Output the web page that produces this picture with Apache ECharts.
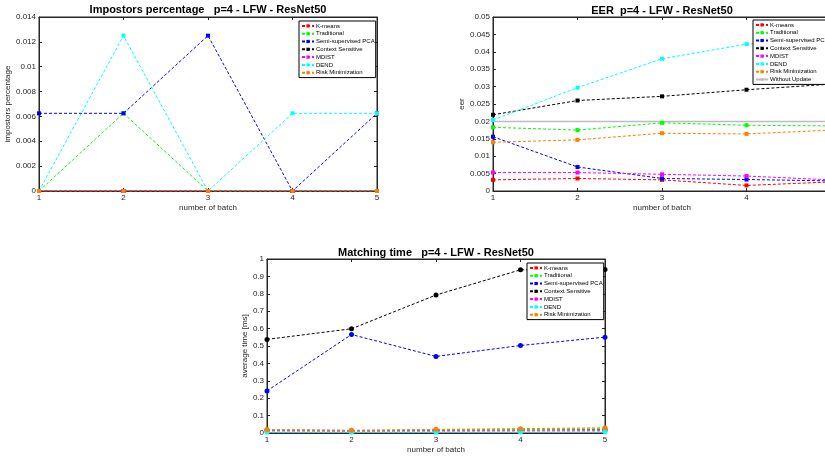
<!DOCTYPE html>
<html>
<head>
<meta charset="utf-8">
<script src="https://cdn.jsdelivr.net/npm/echarts@6/dist/echarts.min.js"></script>
<style>
  html, body { margin: 0; padding: 0; background: #fff; }
  #chart { width: 825px; height: 458px; }
</style>
</head>
<body>
<div id="chart"></div>
<script>
// Batch numbers shared by all three panels
var batches = [1, 2, 3, 4, 5];

var methodNames = ['K-means', 'Traditional', 'Semi-supervised PCA', 'Context Sensitive', 'MDIST', 'DEND', 'Risk Minimization'];
var baselineName = 'Without Update';

// Impostors percentage
var impKmeans      = [0, 0, 0, 0, 0];
var impTraditional = [0, 0.00625, 0, 0, 0];
var impSemiPCA     = [0.00625, 0.00625, 0.0125, 0, 0.00625];
var impContext     = [0, 0, 0, 0, 0];
var impMdist       = [0, 0, 0, 0, 0];
var impDend        = [0, 0.0125, 0, 0.00625, 0.00625];
var impRisk        = [0, 0, 0, 0, 0];

// EER
var eerKmeans      = [0.0032, 0.0036, 0.0032, 0.0016, 0.0026];
var eerTraditional = [0.0183, 0.0175, 0.0196, 0.0189, 0.0187];
var eerSemiPCA     = [0.0156, 0.0069, 0.0036, 0.0033, 0.0029];
var eerContext     = [0.0219, 0.0260, 0.0272, 0.0291, 0.0307];
var eerMdist       = [0.0053, 0.0053, 0.0048, 0.0043, 0.0032];
var eerDend        = [0.0204, 0.0297, 0.0380, 0.0422, 0.0445];
var eerRisk        = [0.0140, 0.0147, 0.0166, 0.0164, 0.0175];
var eerWithoutUpdate = [0.02, 0.02, 0.02, 0.02, 0.02];

// Matching time [ms]
var mtKmeans      = [0.018, 0.014, 0.016, 0.018, 0.020];
var mtTraditional = [0.016, 0.013, 0.017, 0.021, 0.024];
var mtSemiPCA     = [0.242, 0.566, 0.440, 0.503, 0.551];
var mtContext     = [0.538, 0.599, 0.793, 0.938, 0.940];
var mtMdist       = [0.012, 0.010, 0.011, 0.012, 0.013];
var mtDend        = [0.005, 0.004, 0.005, 0.006, 0.007];
var mtRisk        = [0.020, 0.016, 0.021, 0.025, 0.030];

// Y-axis ranges per panel
var impTicks = { min: 0, max: 0.014, interval: 0.002 };
var eerTicks = { min: 0, max: 0.05, interval: 0.005 };
var mtTicks  = { min: 0, max: 1, interval: 0.1 };

var colors = ['#ff0000', '#00ff00', '#0000ff', '#000000', '#ff00ff', '#00ffff', '#ff8000'];
var baselineColor = '#bdbdbd';
var FONT = '"Liberation Sans", Arial, sans-serif';
var AXIS_COLOR = '#262626';

function pairs(values) {
  return batches.map(function (b, i) { return [b, values[i]]; });
}

function xAxisFor(gridIndex, mirror) {
  return {
    type: 'value', gridIndex: gridIndex, min: 1, max: 5, interval: 1,
    position: mirror ? 'top' : 'bottom',
    name: mirror ? '' : 'number of batch', nameLocation: 'middle', nameGap: 13,
    nameTextStyle: { fontFamily: FONT, fontSize: 8, color: AXIS_COLOR },
    axisLine: { show: true, onZero: false, lineStyle: { color: AXIS_COLOR, width: 1 } },
    axisTick: { show: true, inside: true, length: 3, lineStyle: { color: AXIS_COLOR } },
    axisLabel: { show: !mirror, fontFamily: FONT, fontSize: 8, color: AXIS_COLOR, margin: 3 },
    splitLine: { show: false }
  };
}

function yAxisFor(gridIndex, ticks, name, gap, mirror) {
  return {
    type: 'value', gridIndex: gridIndex, min: ticks.min, max: ticks.max, interval: ticks.interval,
    position: mirror ? 'right' : 'left',
    name: mirror ? '' : name, nameLocation: 'middle', nameGap: gap,
    nameTextStyle: { fontFamily: FONT, fontSize: 8, color: AXIS_COLOR },
    axisLine: { show: true, onZero: false, lineStyle: { color: AXIS_COLOR, width: 1 } },
    axisTick: { show: true, inside: true, length: 3, lineStyle: { color: AXIS_COLOR } },
    axisLabel: { show: !mirror, fontFamily: FONT, fontSize: 8, color: AXIS_COLOR, margin: 3 },
    splitLine: { show: false }
  };
}

function methodSeries(panel, valuesList, symbol, size) {
  return valuesList.map(function (values, i) {
    return {
      type: 'line', name: methodNames[i],
      xAxisIndex: panel * 2, yAxisIndex: panel * 2,
      data: pairs(values),
      symbol: symbol, symbolSize: size, showSymbol: true,
      itemStyle: { color: colors[i] },
      lineStyle: { color: colors[i], width: 1, type: [3, 2] },
      animation: false, z: 2 + i
    };
  });
}

function legendFor(left, top, names) {
  return {
    orient: 'vertical', left: left, top: top, z: 20,
    data: names,
    backgroundColor: '#ffffff', borderColor: '#000000', borderWidth: 1,
    padding: [1, 1, 1, 2],
    itemWidth: 12, itemHeight: 4, itemGap: 0,
    textStyle: { fontFamily: FONT, fontSize: 6, color: '#000', lineHeight: 7.8, padding: [0, 0, 0, -3] },
    selectedMode: false
  };
}

function titleText(x, y, text) {
  return {
    type: 'text', x: x, y: y,
    style: { text: text, fontFamily: FONT, fontSize: 11, fontWeight: 'bold', fill: '#000',
             align: 'center', verticalAlign: 'middle' }
  };
}

function gridBox(left, top) {
  return {
    left: left, top: top, width: 338, height: 174, outerBoundsMode: 'none', containLabel: false,
    show: true, borderColor: AXIS_COLOR, borderWidth: 1, backgroundColor: 'transparent'
  };
}

var series = []
  .concat(methodSeries(0, [impKmeans, impTraditional, impSemiPCA, impContext, impMdist, impDend, impRisk], 'rect', 4))
  .concat(methodSeries(1, [eerKmeans, eerTraditional, eerSemiPCA, eerContext, eerMdist, eerDend, eerRisk], 'rect', 4))
  .concat([{
    type: 'line', name: baselineName, xAxisIndex: 2, yAxisIndex: 2,
    data: pairs(eerWithoutUpdate), symbol: 'none', showSymbol: false,
    itemStyle: { color: baselineColor },
    lineStyle: { color: baselineColor, width: 1.5, type: 'solid' },
    animation: false, z: 1
  }])
  .concat(methodSeries(2, [mtKmeans, mtTraditional, mtSemiPCA, mtContext, mtMdist, mtDend, mtRisk], 'circle', 5));

var option = {
  backgroundColor: '#ffffff',
  animation: false,
  grid: [gridBox(39, 17), gridBox(493, 17), gridBox(267, 259)],
  xAxis: [
    xAxisFor(0, false), xAxisFor(0, true),
    xAxisFor(1, false), xAxisFor(1, true),
    xAxisFor(2, false), xAxisFor(2, true)
  ],
  yAxis: [
    yAxisFor(0, impTicks, 'impostors percentage', 22, false), yAxisFor(0, impTicks, '', 0, true),
    yAxisFor(1, eerTicks, 'eer', 21, false), yAxisFor(1, eerTicks, '', 0, true),
    yAxisFor(2, mtTicks, 'average time [ms]', 14, false), yAxisFor(2, mtTicks, '', 0, true)
  ],
  legend: [
    legendFor(299, 21, methodNames),
    legendFor(753, 20, methodNames.concat([baselineName])),
    legendFor(527, 263, methodNames)
  ],
  graphic: [
    titleText(208, 10, 'Impostors percentage   p=4 - LFW - ResNet50'),
    titleText(662, 11, 'EER  p=4 - LFW - ResNet50'),
    titleText(436, 253, 'Matching time   p=4 - LFW - ResNet50')
  ],
  series: series
};

var chart = echarts.init(document.getElementById('chart'), null, { renderer: 'canvas' });
chart.setOption(option);
</script>
</body>
</html>
